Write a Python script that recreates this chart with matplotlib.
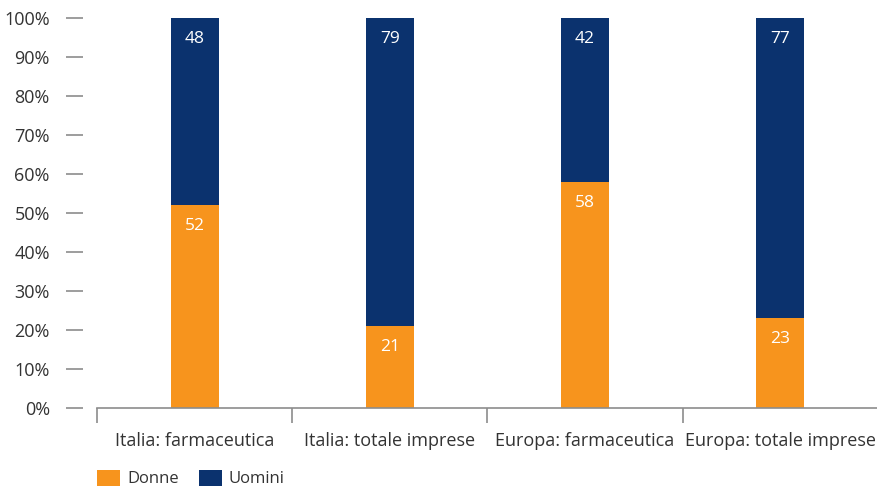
import matplotlib
matplotlib.use("Agg")
import matplotlib.pyplot as plt
from matplotlib.patches import Patch
import numpy as np

plt.rcParams['font.family'] = ['Open Sans', 'DejaVu Sans']

categories = ["Italia: farmaceutica", "Italia: totale imprese", "Europa: farmaceutica", "Europa: totale imprese"]
donne = [52, 21, 58, 23]
uomini = [48, 79, 42, 77]
yticks = [0, 10, 20, 30, 40, 50, 60, 70, 80, 90, 100]

orange = "#F7941D"
navy = "#0B326E"
gray = "#8C8C8C"
txt = "#333333"

fig = plt.figure(figsize=(8.78, 4.90), dpi=100)
ax = fig.add_axes([97/878, 1-408/490, 1-97/878, 390/490])
ax.spines['left'].set_position(('outward', 10))
ax.spines['left'].set_color('none')
for s in ['top', 'right']:
    ax.spines[s].set_visible(False)
ax.spines['bottom'].set_color(gray)
ax.spines['bottom'].set_linewidth(1.2)

x = np.arange(len(categories))
w = 0.245
ax.bar(x, donne, w, color=orange, label="Donne")
ax.bar(x, uomini, w, bottom=donne, color=navy, label="Uomini")

for xi, d, u in zip(x, donne, uomini):
    ax.annotate(str(d), (xi, d), xytext=(0, -15), textcoords="offset points",
                ha="center", va="center", color="white", fontsize=12.5)
    ax.annotate(str(u), (xi, d + u), xytext=(0, -15), textcoords="offset points",
                ha="center", va="center", color="white", fontsize=12.5)

ax.set_xlim(-0.5, len(categories) - 0.5)
ax.set_ylim(0, 100)
ax.set_yticks(yticks)
ax.set_yticklabels([f"{v}%" for v in yticks], fontsize=13, color=txt)
ax.tick_params(axis='y', length=12, width=1.2, color=gray, pad=12)

ax.set_xticks(x)
ax.set_xticklabels(categories, fontsize=13, color=txt)
ax.set_xticks(np.arange(-0.5, len(categories)), minor=True)
ax.tick_params(axis='x', which='major', length=0, pad=17)
ax.tick_params(axis='x', which='minor', length=10.5, width=1.2, color=gray, direction='out')

handles = [Patch(facecolor=orange, label="Donne"), Patch(facecolor=navy, label="Uomini")]
fig.legend(handles=handles, loc='lower left', bbox_to_anchor=(82/878, -0.025), ncol=2,
           frameon=False, fontsize=12, handlelength=1.4, handleheight=1.1,
           handletextpad=0.4, columnspacing=1.2, labelcolor=txt)

fig.savefig("out.png", dpi=100)
